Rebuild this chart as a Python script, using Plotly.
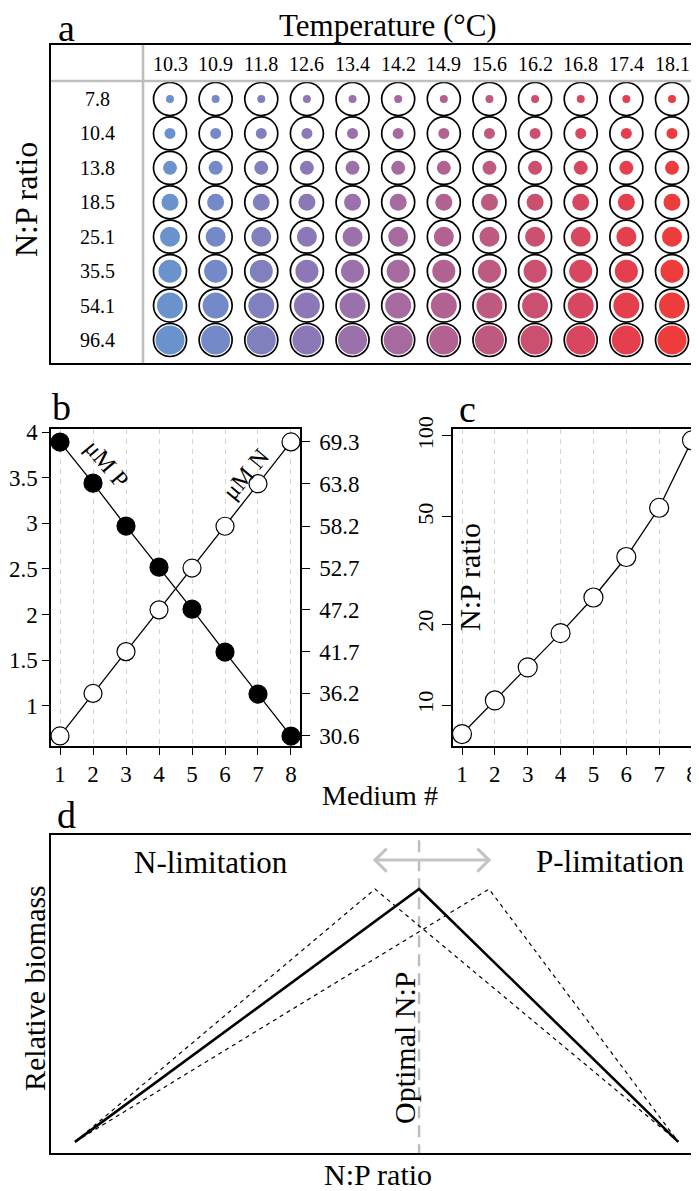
import plotly.graph_objects as go

# The page body carries an 8px margin, so the figure is sized to the visible
# area and all pixel positions are measured in reference-image coordinates.
OFF = 8
W, H = 699 - OFF, 1191 - OFF
FONT = "Liberation Serif"


def fx(p):
    return (p - OFF) / W


def fy(p):
    return 1 - (p - OFF) / H


# ---------------- data ----------------
# panel a
temps = [10.3, 10.9, 11.8, 12.6, 13.4, 14.2, 14.9, 15.6, 16.2, 16.8, 17.4, 18.1]
np_ratios = [7.8, 10.4, 13.8, 18.5, 25.1, 35.5, 54.1, 96.4]
temp_colors = ["#6A93CE", "#7489C8", "#8080BE", "#8C78B6", "#9A71AB", "#A66A9F",
               "#B26290", "#BE5A80", "#CB5070", "#D84660", "#E53F4E", "#EE3B3B"]

# panel b / c
medium = [1, 2, 3, 4, 5, 6, 7, 8]
uM_P = [3.89, 3.44, 2.97, 2.52, 2.06, 1.59, 1.13, 0.67]
uM_N = [30.6, 36.2, 41.7, 47.2, 52.7, 58.2, 63.8, 69.3]
p_ticks = [1, 1.5, 2, 2.5, 3, 3.5, 4]
p_ticktext = ["1", "1.5", "2", "2.5", "3", "3.5", "4"]
ratio_ticks = [10, 20, 50, 100]

# panel d (conceptual curves, x in % of axis, y relative biomass)
d_x_low = [3.7, 50.0, 96.8]
d_x_opt = [3.7, 56.8, 96.8]
d_x_high = [3.7, 67.6, 96.8]
d_biomass = [0.035, 0.83, 0.035]
arrow_y = 0.921

fig = go.Figure()

# ---------------- panel a ----------------
nrow, ncol = len(np_ratios), len(temps)
gx = [j for i in range(nrow) for j in range(ncol)]
gy = [i for i in range(nrow) for j in range(ncol)]
fig.add_trace(go.Scatter(
    x=gx, y=gy, mode="markers", xaxis="x", yaxis="y", cliponaxis=False,
    marker=dict(size=33, color="white", opacity=1, line=dict(color="black", width=1.7)),
    hoverinfo="skip", showlegend=False))
fig.add_trace(go.Scatter(
    x=gx, y=gy, mode="markers", xaxis="x", yaxis="y", cliponaxis=False,
    marker=dict(size=[8 + 3 * i for i in gy], color=[temp_colors[j] for j in gx],
                opacity=1, line=dict(width=0)),
    showlegend=False))

# ---------------- panel b ----------------
fig.add_trace(go.Scatter(
    x=medium, y=uM_P, mode="lines+markers", xaxis="x2", yaxis="y2", cliponaxis=False,
    line=dict(color="black", width=1.3),
    marker=dict(size=18, color="black", line=dict(color="black", width=1.2)),
    showlegend=False))
fig.add_trace(go.Scatter(
    x=medium, y=uM_N, mode="lines+markers", xaxis="x2", yaxis="y3", cliponaxis=False,
    line=dict(color="black", width=1.3),
    marker=dict(size=18, color="white", line=dict(color="black", width=1.2)),
    showlegend=False))

# ---------------- panel c ----------------
fig.add_trace(go.Scatter(
    x=medium, y=np_ratios, mode="lines+markers", xaxis="x3", yaxis="y4", cliponaxis=False,
    line=dict(color="black", width=1.3),
    marker=dict(size=19, color="white", line=dict(color="black", width=1.2)),
    showlegend=False))

# ---------------- panel d ----------------
opt_x = d_x_opt[1]
fig.add_trace(go.Scatter(
    x=[opt_x, opt_x], y=[-0.01, 1.01], mode="lines", xaxis="x4", yaxis="y5", cliponaxis=False,
    line=dict(color="#BEBEBE", width=2.5, dash="12px,7px"), showlegend=False))
# double arrow between the shifted optima
lo, hi = d_x_low[1], d_x_high[1]
dx, dy = 1.8, 0.036
fig.add_trace(go.Scatter(
    x=[lo, hi, None, lo + dx, lo, lo + dx, None, hi - dx, hi, hi - dx],
    y=[arrow_y, arrow_y, None, arrow_y + dy, arrow_y, arrow_y - dy, None,
       arrow_y + dy, arrow_y, arrow_y - dy],
    mode="lines", xaxis="x4", yaxis="y5",
    line=dict(color="#C3C3C3", width=3), showlegend=False))
for xs in (d_x_low, d_x_high):
    fig.add_trace(go.Scatter(
        x=xs, y=d_biomass, mode="lines", xaxis="x4", yaxis="y5",
        line=dict(color="black", width=1.2, dash="4px,4px"), showlegend=False))
fig.add_trace(go.Scatter(
    x=d_x_opt, y=d_biomass, mode="lines", xaxis="x4", yaxis="y5",
    line=dict(color="black", width=2.6), showlegend=False))

# ---------------- axes ----------------
hidden = dict(showgrid=False, zeroline=False, showticklabels=False, ticks="")
tickfont = dict(family=FONT, size=23, color="black")

# panel a axes: x index 0..11 -> px 170..672 ; y row 0..7 -> px 99..340
ax_px = 45.636
ay_px = 34.43
fig.update_layout(
    xaxis=dict(domain=[fx(51), 1], range=[0 - (170 - 51) / ax_px, 11 + (699 - 672) / ax_px],
               anchor="y", showline=True, mirror=True, linecolor="black", linewidth=1.6,
               automargin=False, **hidden),
    yaxis=dict(domain=[fy(363), fy(45)], range=[7 + (363 - 340) / ay_px, 0 - (99 - 45) / ay_px],
               anchor="x", showline=True, linecolor="black", linewidth=1.6,
               automargin=False, **hidden),
)

axis_common = dict(showline=True, linecolor="black", linewidth=1.5, ticks="outside",
                   tickcolor="black", tickwidth=1.3, zeroline=False, tickfont=tickfont,
                   automargin=False)

fig.update_layout(
    xaxis2=dict(domain=[fx(51), fx(300)], range=[0.727, 8.273], anchor="y2", mirror=True,
                tickvals=medium, ticklen=7, showgrid=True, gridcolor="#D3D3D3", gridwidth=1,
                griddash="5px,5px", **axis_common),
    yaxis2=dict(domain=[fy(746), fy(429)], range=[0.561, 4.033], anchor="x2",
                tickvals=p_ticks, ticktext=p_ticktext, ticklen=7, showgrid=False, **axis_common),
    yaxis3=dict(domain=[fy(746), fy(429)], range=[29.28, 71.0], anchor="x2", overlaying="y2",
                side="right", tickvals=uM_N, ticktext=[f"{v:.1f}" for v in uM_N], ticklen=8,
                ticklabelstandoff=5, showgrid=False, **axis_common),
    xaxis3=dict(domain=[fx(453), 1], range=[0.726, 8.213], anchor="y4", mirror=True,
                tickvals=medium, ticklen=7, showgrid=True, gridcolor="#D3D3D3", gridwidth=1,
                griddash="5px,5px", **axis_common),
    yaxis4=dict(domain=[fy(746), fy(429)], type="log", range=[0.8476, 2.026], anchor="x3",
                tickvals=ratio_ticks, ticktext=[str(v) for v in ratio_ticks], tickangle=-90,
                ticklen=9, showgrid=False,
                **{**axis_common, "tickfont": dict(family=FONT, size=22, color="black")}),
    xaxis4=dict(domain=[fx(51), 1], range=[0, 100], anchor="y5", showline=True, mirror=True,
                linecolor="black", linewidth=1.5, automargin=False, **hidden),
    yaxis5=dict(domain=[fy(1153), fy(835)], range=[0, 1], anchor="x4", showline=True,
                linecolor="black", linewidth=1.5, automargin=False, **hidden),
)

# ---------------- decorations / text ----------------
shapes = [
    dict(type="line", xref="paper", yref="paper", x0=fx(143), x1=fx(143), y0=fy(45), y1=fy(363),
         line=dict(color="#BEBEBE", width=2.6)),
    dict(type="line", xref="paper", yref="paper", x0=fx(51), x1=1, y0=fy(81), y1=fy(81),
         line=dict(color="#BEBEBE", width=2.6)),
]

ann = []


def text(x, y, s, size, angle=0, xref="paper", yref="paper"):
    ann.append(dict(x=x, y=y, xref=xref, yref=yref, text=s, showarrow=False,
                    xanchor="center", yanchor="middle", textangle=angle,
                    font=dict(family=FONT, size=size, color="black")))


# panel a labels
for j, t in enumerate(temps):
    text(j, (63.5 - 99) / ay_px, f"{t:.1f}", 20, xref="x", yref="y")
for i, r in enumerate(np_ratios):
    text((97 - 170) / ax_px, i, f"{r:.1f}", 20, xref="x", yref="y")

text(fx(388), fy(25), "Temperature (°C)", 31)
text(fx(66), fy(28), "a", 38)
text(fx(26), fy(200), "N:P ratio", 32, angle=-90)

# panel b / c
text(fx(62), fy(407), "b", 38)
text(fx(467), fy(409), "c", 38)
text(fx(107), fy(464), "μM P", 24, angle=50)
text(fx(246), fy(474), "μM N", 24, angle=-50)
text(fx(380), fy(795), "Medium #", 28)
text(fx(469), fy(577), "N:P ratio", 30, angle=-90)

# panel d
text(fx(67), fy(815), "d", 38)
text(fx(211), fy(862), "N-limitation", 31)
text(fx(610), fy(861), "P-limitation", 31)
text(fx(34), fy(988), "Relative biomass", 30, angle=-90)
text(fx(404), fy(1048), "Optimal N:P", 30, angle=-90)
text(fx(378), fy(1174), "N:P ratio", 30)

fig.update_layout(
    width=W, height=H, margin=dict(l=0, r=0, t=0, b=0, pad=0, autoexpand=False),
    paper_bgcolor="white", plot_bgcolor="white",
    font=dict(family=FONT, color="black"),
    showlegend=False, shapes=shapes, annotations=ann,
)

fig.write_html("out.html")
